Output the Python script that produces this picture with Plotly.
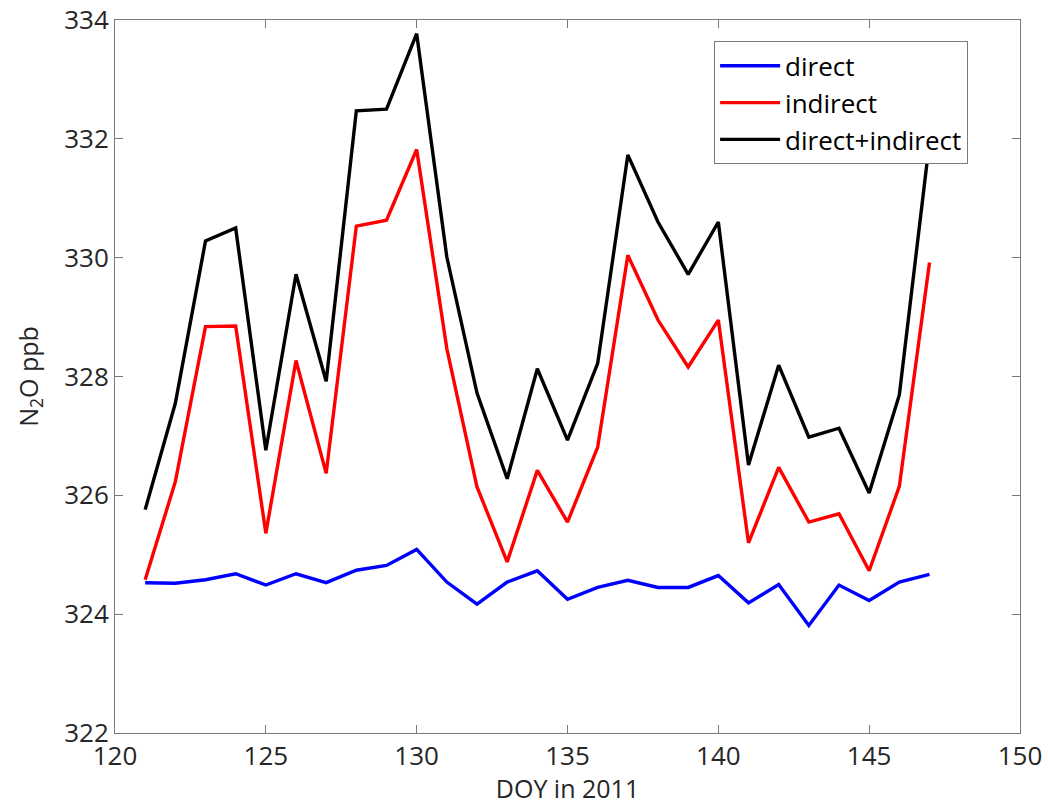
import plotly.graph_objects as go

doy = list(range(121, 148))

direct = [324.53, 324.52, 324.58, 324.68, 324.49, 324.68, 324.53, 324.74, 324.82, 325.09,
          324.54, 324.17, 324.54, 324.73, 324.25, 324.45, 324.57, 324.45, 324.45, 324.65,
          324.19, 324.50, 323.81, 324.49, 324.23, 324.54, 324.67]

indirect = [324.58, 326.23, 328.84, 328.85, 325.36, 328.27, 326.37, 330.53, 330.63, 331.82,
            328.47, 326.14, 324.88, 326.42, 325.55, 326.81, 330.04, 328.95, 328.16, 328.95,
            325.20, 326.47, 325.55, 325.69, 324.73, 326.15, 329.92]

combined = [325.76, 327.55, 330.28, 330.50, 326.76, 329.72, 327.92, 332.47, 332.50, 333.77,
            330.01, 327.72, 326.28, 328.13, 326.93, 328.22, 331.73, 330.60, 329.72, 330.60,
            326.51, 328.19, 326.98, 327.13, 326.04, 327.69, 331.95]

names = ["direct", "indirect", "direct+indirect"]
colors = ["#0000ff", "#ff0000", "#000000"]

fig = go.Figure()
for name, ys, c in zip(names, [direct, indirect, combined], colors):
    fig.add_trace(go.Scatter(x=doy, y=ys, mode="lines", name=name,
                             line=dict(color=c, width=3.4)))

axis_common = dict(
    showline=True, linecolor="#7a7a7a", linewidth=1, mirror="allticks",
    ticks="inside", ticklen=8, tickcolor="#7a7a7a", tickwidth=1,
    showgrid=False, zeroline=False, automargin=False,
    tickfont=dict(family="Open Sans", size=26, color="#262626"),
)

fig.update_xaxes(range=[120, 150], tickvals=[120, 125, 130, 135, 140, 145, 150],
                 title=dict(text="DOY in 2011", standoff=6,
                            font=dict(family="Open Sans", size=25, color="#262626")),
                 **axis_common)
fig.update_yaxes(range=[322, 334], tickvals=[322, 324, 326, 328, 330, 332, 334],
                 title=dict(text="N<sub>2</sub>O ppb", standoff=18,
                            font=dict(family="Open Sans", size=25, color="#262626")),
                 **axis_common)

fig.update_layout(
    width=1048, height=805,
    margin=dict(l=115, r=28, t=20, b=72),
    plot_bgcolor="white", paper_bgcolor="white",
    legend=dict(x=0.662, y=0.97, xanchor="left", yanchor="top",
                bgcolor="white", bordercolor="#7a7a7a", borderwidth=1,
                font=dict(family="Open Sans", size=26, color="#000000"),
                tracegroupgap=0, itemwidth=60),
    showlegend=True,
)

fig.write_html("out.html")
